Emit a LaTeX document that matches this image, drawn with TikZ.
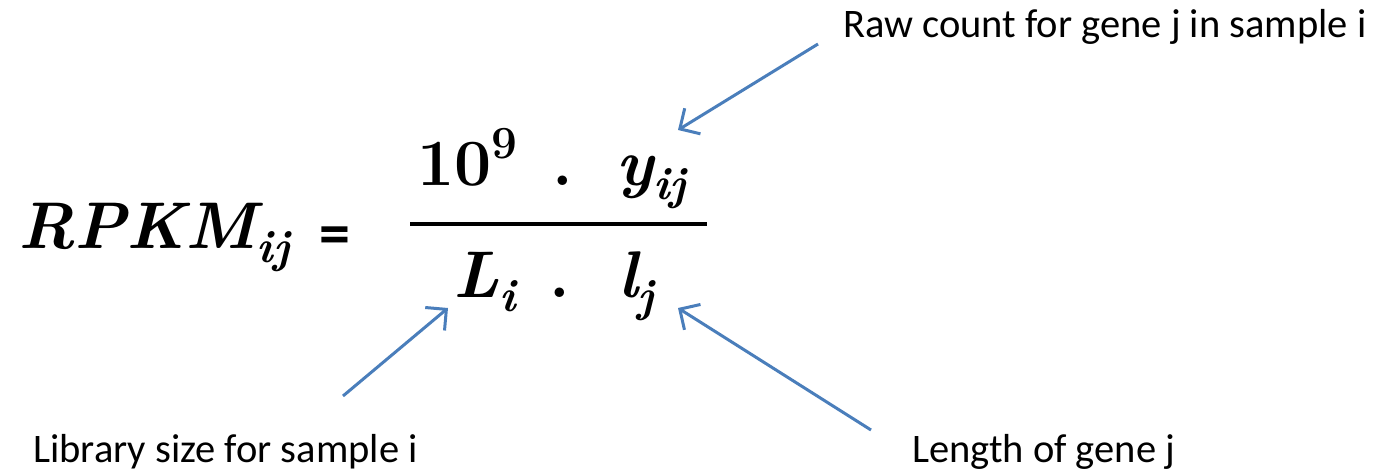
\documentclass[tikz,border=0pt]{standalone}
\usepackage{fontspec}
\usepackage{xcolor}
\usepackage{tikz}
\usetikzlibrary{arrows.meta}
\newfontfamily\notefont{Carlito}
\definecolor{pointerblue}{RGB}{74,126,187}
\newcommand{\lowidx}[1]{\raisebox{-0.22em}{\fontsize{46}{50}\selectfont #1}}
\newcommand{\highidx}[1]{\raisebox{0.40em}{\fontsize{46}{50}\selectfont #1}}
\tikzset{
  formula/.style={inner sep=0pt,font=\fontsize{66}{72}\selectfont\bfseries\itshape},
  upright/.style={inner sep=0pt,font=\fontsize{66}{72}\selectfont\bfseries\upshape},
  note/.style={inner sep=0pt,anchor=base west,font=\notefont\fontsize{40.5}{48}\selectfont},
  pointer/.style={-{Straight Barb[length=15pt,width=30pt]},line width=3pt,pointerblue}
}

\begin{document}
\begin{tikzpicture}[x=1pt,y=-1pt]
  \useasboundingbox (0,0) rectangle (1393,471);

  % left side
  \node[formula,anchor=base west] (rpkm) at (18,248) {RPKM\lowidx{ij}};
  \node[inner sep=0pt,anchor=base,font=\notefont\bfseries\fontsize{62}{70}\selectfont] (eq) at (335,254) {=};

  % numerator and denominator
  \node[upright,anchor=base west] (pow) at (417,185) {10\highidx{9}};
  \node[upright,anchor=base] (dota) at (563,185) {.};
  \node[formula,anchor=base west] (yij) at (616,185) {y\lowidx{ij}};
  \draw[line width=3.5pt] (410,224) -- (707,224);
  \node[formula,anchor=base west] (Li) at (453,297) {L\lowidx{i}};
  \node[upright,anchor=base] (dotb) at (560,297) {.};
  \node[formula,anchor=base west] (lj) at (618,297) {l\lowidx{j}};

  % labels
  \node[note] (rawtxt) at (843,37) {Raw count for gene j in sample i};
  \node[note] (libtxt) at (33,462) {Library size for sample i};
  \node[note] (lentxt) at (912,462) {Length of gene j};

  \coordinate (rawtail) at (818,44);
  \coordinate (rawtip) at (678,130);
  \coordinate (libtail) at (343,396);
  \coordinate (libtip) at (448,308);
  \coordinate (lentail) at (871,430);
  \coordinate (lentip) at (678,308);

  \draw[pointer] (rawtail) -- (rawtip);
  \draw[pointer] (libtail) -- (libtip);
  \draw[pointer] (lentail) -- (lentip);
\end{tikzpicture}
\end{document}
